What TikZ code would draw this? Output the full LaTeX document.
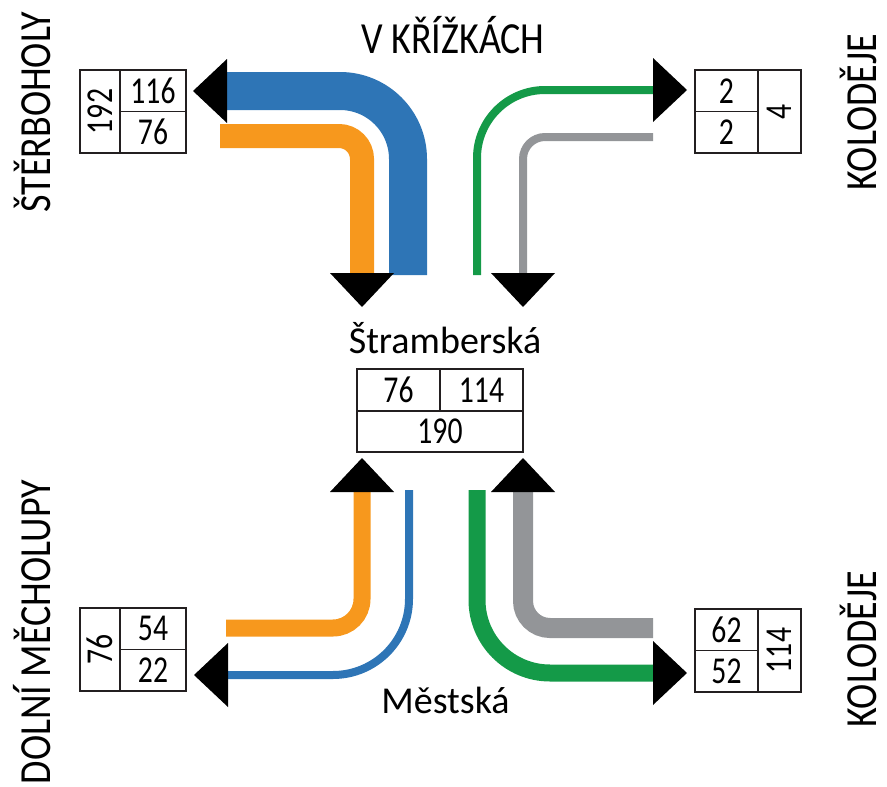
\documentclass[tikz,border=0pt]{standalone}
\usepackage{fontspec}
\usepackage{graphicx}
\setmainfont{Carlito}
\usetikzlibrary{arrows.meta}

\definecolor{flowblue}{HTML}{2E75B6}
\definecolor{floworange}{HTML}{F7981D}
\definecolor{flowgreen}{HTML}{149A48}
\definecolor{flowgrey}{HTML}{939598}
\definecolor{boxline}{HTML}{231F20}

% caption letters are set a little taller than the font draws them
\newcommand\tallcaps[1]{\scalebox{1}[1.17]{#1}}
% counts are set slightly condensed
\newcommand\cnt[1]{\scalebox{0.78}[1]{#1}}

\tikzset{
  lbl/.style={inner sep=0pt, font=\fontsize{38}{40}\selectfont},
  cell/.style={draw=boxline, line width=1.6pt, inner sep=0pt,
    font=\fontsize{38}{40}\selectfont},
  flow/.style={line cap=butt,
    -{Triangle[width=64pt,length=34pt,line width=0pt,color=black]}},
}

\begin{document}
\begin{tikzpicture}[x=1pt,y=-1pt]
\useasboundingbox (0,0) rectangle (887,787);

% street names
\node[lbl, anchor=base] (hdr) at (453,53) {\tallcaps{V KŘÍŽKÁCH}};
\node[lbl, anchor=base] (stram) at (445,353) {Štramberská};
\node[lbl, anchor=base] (mest) at (445.5,713) {Městská};
\node[lbl, rotate=90, anchor=base] (sterb) at (50,112) {\tallcaps{ŠTĚRBOHOLY}};
\node[lbl, rotate=90, anchor=base] (kolTop) at (876,112) {\tallcaps{KOLODĚJE}};
\node[lbl, rotate=90, anchor=base] (dolni) at (50,632) {\tallcaps{DOLNÍ MĚCHOLUPY}};
\node[lbl, rotate=90, anchor=base] (kolBot) at (876,649) {\tallcaps{KOLODĚJE}};

% count tables
\node[cell, minimum width=40pt, minimum height=83pt] (tlSum) at (100,111.5) {\rotatebox{90}{\cnt{192}}};
\node[cell, minimum width=66pt, minimum height=41.5pt] (tlIn) at (153,90.75) {\cnt{116}};
\node[cell, minimum width=66pt, minimum height=41.5pt] (tlOut) at (153,132.25) {\cnt{76}};

\node[cell, minimum width=63pt, minimum height=41.5pt] (trIn) at (726.5,90.75) {\cnt{2}};
\node[cell, minimum width=63pt, minimum height=41.5pt] (trOut) at (726.5,132.25) {\cnt{2}};
\node[cell, minimum width=43pt, minimum height=83pt] (trSum) at (779.5,111.5) {\rotatebox{90}{\cnt{4}}};

\node[cell, minimum width=40pt, minimum height=83pt] (blSum) at (100,649.5) {\rotatebox{90}{\cnt{76}}};
\node[cell, minimum width=66pt, minimum height=41.5pt] (blOut) at (153,628.75) {\cnt{54}};
\node[cell, minimum width=66pt, minimum height=41.5pt] (blIn) at (153,670.25) {\cnt{22}};

\node[cell, minimum width=63pt, minimum height=41.5pt] (brOut) at (726.5,629.75) {\cnt{62}};
\node[cell, minimum width=63pt, minimum height=41.5pt] (brIn) at (726.5,671.25) {\cnt{52}};
\node[cell, minimum width=43pt, minimum height=83pt] (brSum) at (779.5,650.5) {\rotatebox{90}{\cnt{114}}};

\node[cell, minimum width=83pt, minimum height=42pt] (mA) at (398.5,390) {\cnt{76}};
\node[cell, minimum width=83pt, minimum height=42pt] (mB) at (481.5,390) {\cnt{114}};
\node[cell, minimum width=166pt, minimum height=41pt] (mSum) at (440,431.5) {\cnt{190}};

% flow ends
\coordinate (tlBlueS) at (408,275);  \coordinate (tlBlueE) at (193,91);
\coordinate (tlOrS) at (220,136);    \coordinate (tlOrE) at (362,307);
\coordinate (trGreenS) at (477,275); \coordinate (trGreenE) at (687,90);
\coordinate (trGreyS) at (653,137);  \coordinate (trGreyE) at (523,307);
\coordinate (blOrS) at (226,628);    \coordinate (blOrE) at (362,458);
\coordinate (blBlueS) at (409,490);  \coordinate (blBlueE) at (194,675);
\coordinate (brGreenS) at (477,490); \coordinate (brGreenE) at (687,673);
\coordinate (brGreyS) at (653,628);  \coordinate (brGreyE) at (523,458);

% turning flows
\draw[flow, flowblue, line width=38pt, rounded corners=68pt]
  (tlBlueS) |- (tlBlueE);
\draw[flow, floworange, line width=24pt, rounded corners=23pt]
  (tlOrS) -| (tlOrE);
\draw[flow, flowgreen, line width=8pt, rounded corners=68pt]
  (trGreenS) |- (trGreenE);
\draw[flow, flowgrey, line width=8pt, rounded corners=22pt]
  (trGreyS) -| (trGreyE);
\draw[flow, floworange, line width=17pt, rounded corners=29pt]
  (blOrS) -| (blOrE);
\draw[flow, flowblue, line width=8pt, rounded corners=76pt]
  (blBlueS) |- (blBlueE);
\draw[flow, flowgreen, line width=17pt, rounded corners=73pt]
  (brGreenS) |- (brGreenE);
\draw[flow, flowgrey, line width=20pt, rounded corners=27pt]
  (brGreyS) -| (brGreyE);
\end{tikzpicture}
\end{document}
